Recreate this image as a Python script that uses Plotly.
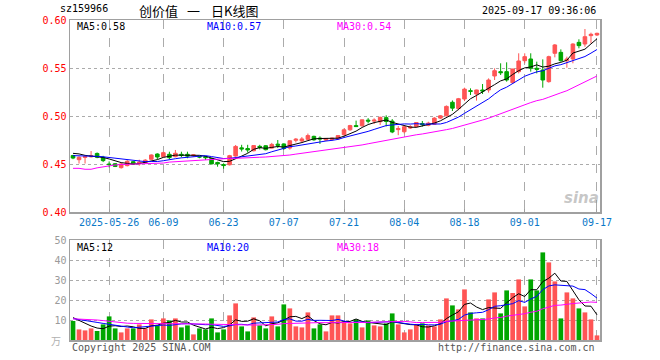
import plotly.graph_objects as go
import pandas as pd

# ---------------- data ----------------
dates = [
    "2025-05-16",
    "2025-05-19", "2025-05-20", "2025-05-21", "2025-05-22", "2025-05-23",
    "2025-05-26", "2025-05-27", "2025-05-28", "2025-05-29", "2025-05-30",
    "2025-06-03", "2025-06-04", "2025-06-05", "2025-06-06",
    "2025-06-09", "2025-06-10", "2025-06-11", "2025-06-12", "2025-06-13",
    "2025-06-16", "2025-06-17", "2025-06-18", "2025-06-19", "2025-06-20",
    "2025-06-23", "2025-06-24", "2025-06-25", "2025-06-26", "2025-06-27",
    "2025-06-30", "2025-07-01", "2025-07-02", "2025-07-03", "2025-07-04",
    "2025-07-07", "2025-07-08", "2025-07-09", "2025-07-10", "2025-07-11",
    "2025-07-14", "2025-07-15", "2025-07-16", "2025-07-17", "2025-07-18",
    "2025-07-21", "2025-07-22", "2025-07-23", "2025-07-24", "2025-07-25",
    "2025-07-28", "2025-07-29", "2025-07-30", "2025-07-31", "2025-08-01",
    "2025-08-04", "2025-08-05", "2025-08-06", "2025-08-07", "2025-08-08",
    "2025-08-11", "2025-08-12", "2025-08-13", "2025-08-14", "2025-08-15",
    "2025-08-18", "2025-08-19", "2025-08-20", "2025-08-21", "2025-08-22",
    "2025-08-25", "2025-08-26", "2025-08-27", "2025-08-28", "2025-08-29",
    "2025-09-01", "2025-09-02", "2025-09-03", "2025-09-04", "2025-09-05",
    "2025-09-08", "2025-09-09", "2025-09-10", "2025-09-11", "2025-09-12",
    "2025-09-15", "2025-09-16", "2025-09-17",
]

open_ = [
    .4588, .4545, .4568, .4575, .4610, .4570, .4500, .4503, .4462, .4483,
    .4524, .4503, .4514, .4549, .4604, .4576, .4601, .4576, .4601, .4601,
    .4585, .4580, .4576, .4558, .4516, .4494, .4492, .4583, .4668, .4661,
    .4638, .4684, .4690, .4666, .4707, .4709, .4666, .4747, .4740, .4757,
    .4788, .4770, .4749, .4755, .4762, .4805, .4856, .4900, .4898, .4957,
    .4947, .4940, .4983, .4947, .4858, .4836, .4875, .4890, .4922, .4903,
    .4914, .4978, .5002, .5143, .5077, .5177, .5264, .5229, .5271, .5271,
    .5417, .5462, .5462, .5347, .5462, .5576, .5594, .5497, .5479, .5358,
    .5653, .5663, .5576, .5594, .5767, .5750, .5837, .5844,
]
high = [
    .4595, .4580, .4585, .4635, .4620, .4585, .4527, .4510, .4514, .4540,
    .4530, .4545, .4550, .4600, .4611, .4628, .4628, .4646, .4628, .4628,
    .4600, .4585, .4583, .4560, .4524, .4507, .4595, .4698, .4700, .4700,
    .4694, .4700, .4696, .4720, .4750, .4715, .4747, .4770, .4780, .4817,
    .4795, .4788, .4770, .4774, .4796, .4870, .4908, .4952, .4962, .4978,
    .4976, .4993, .5007, .4968, .4896, .4895, .4905, .4935, .4948, .4940,
    .4988, .5010, .5110, .5162, .5188, .5295, .5288, .5274, .5333, .5392,
    .5497, .5549, .5559, .5490, .5653, .5653, .5653, .5566, .5590, .5628,
    .5750, .5694, .5618, .5757, .5799, .5906, .5868, .5868,
]
low = [
    .4550, .4505, .4505, .4568, .4560, .4520, .4465, .4468, .4452, .4475,
    .4490, .4483, .4510, .4545, .4549, .4570, .4549, .4570, .4569, .4560,
    .4578, .4560, .4542, .4497, .4472, .4451, .4485, .4576, .4630, .4618,
    .4632, .4652, .4642, .4660, .4666, .4646, .4650, .4725, .4722, .4745,
    .4742, .4709, .4740, .4743, .4752, .4797, .4846, .4885, .4889, .4923,
    .4917, .4906, .4891, .4821, .4800, .4818, .4865, .4880, .4890, .4893,
    .4910, .4968, .4995, .5052, .5060, .5155, .5219, .5160, .5229, .5243,
    .5375, .5427, .5358, .5340, .5444, .5549, .5462, .5444, .5295, .5347,
    .5611, .5566, .5503, .5549, .5705, .5722, .5757, .5833,
]
close = [
    .4562, .4570, .4578, .4585, .4570, .4535, .4494, .4474, .4500, .4528,
    .4500, .4520, .4540, .4594, .4573, .4618, .4566, .4612, .4590, .4582,
    .4595, .4572, .4566, .4501, .4501, .4484, .4587, .4683, .4657, .4646,
    .4692, .4673, .4649, .4704, .4695, .4661, .4742, .4758, .4761, .4796,
    .4752, .4761, .4766, .4770, .4796, .4856, .4900, .4890, .4960, .4947,
    .4957, .4986, .4943, .4834, .4870, .4888, .4886, .4932, .4910, .4926,
    .4978, .5002, .5100, .5082, .5180, .5280, .5257, .5271, .5260, .5375,
    .5472, .5451, .5375, .5490, .5573, .5618, .5497, .5486, .5375, .5618,
    .5740, .5576, .5594, .5750, .5733, .5826, .5851, .5861,
]
volume = [
    9.5, 5.3, 4.8, 5.8, 4.5, 7.8, 11.8, 5.8, 3.8, 5.8,
    5.8, 7.8, 5.8, 10.3, 7.3, 10.8, 9.8, 10.8, 6.3, 7.3,
    2.8, 5.8, 5.3, 10.8, 3.8, 5.3, 12.3, 18.3, 6.8, 4.3,
    11.3, 7.3, 5.8, 11.8, 6.8, 17.8, 15.8, 6.8, 6.3, 13.8,
    5.8, 7.8, 4.3, 12.3, 12.3, 9.3, 8.3, 10.3, 6.3, 9.8,
    7.3, 6.8, 8.3, 13.3, 7.8, 3.8, 5.3, 7.8, 8.3, 7.3,
    6.8, 10.3, 20.8, 17.3, 15.3, 25.3, 13.8, 10.8, 10.8, 20.3,
    23.8, 13.3, 24.8, 23.5, 30.3, 16.8, 30.3, 24.8, 43.8, 38.8,
    29.3, 10.8, 23.8, 20.8, 15.8, 13.8, 10.3, 2.3,
]

# moving-average values at the start of the window (read off the picture,
# their look-back period lies before the first visible day)
ma5_head = [0.4611, 0.4605, 0.4590, 0.4585]
ma10_head = [0.4587, 0.4587, 0.4585, 0.4583, 0.4580, 0.4575, 0.4568, 0.4558, 0.4550]
ma30_head = [0.4455, 0.4455, 0.4445, 0.4445, 0.4460, 0.4472, 0.4483, 0.4490, 0.4495, 0.4497,
             0.4497, 0.4500, 0.4505, 0.4507, 0.4508, 0.4510, 0.4520, 0.4524, 0.4526, 0.4535,
             0.4540, 0.4542, 0.4545, 0.4550, 0.4555, 0.4557, 0.4558, 0.4559, 0.4560]
vma5_head = [11.2, 9.8, 8.3, 7.0]
vma10_head = [10.7, 10.3, 9.8, 9.3, 8.8, 8.3, 7.8, 7.2, 6.8]
vma30_head = [10.6, 10.5, 10.4, 10.2, 10.0, 9.7, 9.3, 8.9, 8.6, 8.4,
              8.3, 8.3, 8.3, 8.3, 8.3, 8.3, 8.3, 8.2, 8.2, 8.2,
              8.1, 8.0, 8.0, 7.9, 7.8, 7.7, 7.6, 7.5, 7.5]

tick_dates = ["2025-05-26", "2025-06-09", "2025-06-23", "2025-07-07", "2025-07-21",
              "2025-08-04", "2025-08-18", "2025-09-01", "2025-09-17"]
tick_labels = ["2025-05-26", "06-09", "06-23", "07-07", "07-21",
               "08-04", "08-18", "09-01", "09-17"]
price_ticks = [0.40, 0.45, 0.50, 0.55, 0.60]
price_tick_labels = ["0.40", "0.45", "0.50", "0.55", "0.60"]
vol_ticks = [10, 20, 30, 40, 50]

code = "sz159966"
title = ["创价值", "一", "日K线图"]
timestamp = "2025-09-17 09:36:06"


# ---------------- helpers ----------------
def moving_average(values, n, head):
    s = pd.Series(values, dtype=float).rolling(n).mean().tolist()
    return list(head) + s[len(head):]


ma5 = moving_average(close, 5, ma5_head)
ma10 = moving_average(close, 10, ma10_head)
ma30 = moving_average(close, 30, ma30_head)
vma5 = moving_average(volume, 5, vma5_head)
vma10 = moving_average(volume, 10, vma10_head)
vma30 = moving_average(volume, 30, vma30_head)

RED = "#FF5555"
GREEN = "#00A600"
MONO = "DejaVu Sans Mono"
GRID = "#ABABAB"
BORDER = "#A0A0A0"
vol_colors = [RED if c >= o else GREEN for o, c in zip(open_, close)]

fig = go.Figure()
fig.add_trace(go.Candlestick(
    x=dates, open=open_, high=high, low=low, close=close,
    increasing=dict(line=dict(color=RED, width=1), fillcolor=RED),
    decreasing=dict(line=dict(color=GREEN, width=1), fillcolor=GREEN),
    whiskerwidth=0, xaxis="x", yaxis="y", hoverinfo="skip", showlegend=False))
for vals, col in [(ma5, "#000000"), (ma10, "#0000FF"), (ma30, "#FF00FF")]:
    fig.add_trace(go.Scatter(x=dates, y=vals, mode="lines", line=dict(color=col, width=1),
                             xaxis="x", yaxis="y", hoverinfo="skip", showlegend=False))
fig.add_trace(go.Bar(x=dates, y=volume, marker=dict(color=vol_colors, line=dict(width=0)),
                     xaxis="x2", yaxis="y2", hoverinfo="skip", showlegend=False))
for vals, col in [(vma5, "#000000"), (vma10, "#0000FF"), (vma30, "#FF00FF")]:
    fig.add_trace(go.Scatter(x=dates, y=vals, mode="lines", line=dict(color=col, width=1),
                             xaxis="x2", yaxis="y2", hoverinfo="skip", showlegend=False))

xcommon = dict(type="category", range=[-0.5, len(dates) - 0.5], tickvals=tick_dates,
               showgrid=True, gridcolor=GRID, griddash="dash", gridwidth=1,
               showline=True, mirror=True, linecolor=BORDER, linewidth=1.5,
               zeroline=False, fixedrange=True)

fig.update_layout(
    width=660, height=360,
    margin=dict(l=70, r=60, t=20, b=20),
    paper_bgcolor="white", plot_bgcolor="white",
    bargap=0.22, boxgap=0.15, showlegend=False,
    xaxis=dict(**xcommon, domain=[0, 1], anchor="y", ticktext=tick_labels,
               tickfont=dict(family=MONO, size=10, color="#0A78C8"),
               ticks="inside", ticklen=3, tickcolor=BORDER,
               rangeslider=dict(visible=False)),
    yaxis=dict(domain=[0.4, 1.0], anchor="x", range=[0.40, 0.60],
               tickvals=price_ticks, ticktext=price_tick_labels,
               tickfont=dict(family=MONO, size=10, color="#FF0000"),
               showgrid=True, gridcolor=GRID, griddash="dot", gridwidth=1,
               showline=True, mirror=True, linecolor=BORDER, linewidth=1.5,
               zeroline=False, ticks="", fixedrange=True),
    xaxis2=dict(**xcommon, domain=[0, 1], anchor="y2", showticklabels=False, ticks=""),
    yaxis2=dict(domain=[0.0, 0.3125], anchor="x2", range=[0, 50],
                tickvals=vol_ticks, ticktext=[str(v) for v in vol_ticks],
                tickfont=dict(family=MONO, size=10, color="#9A9A9A"),
                showgrid=True, gridcolor=GRID, griddash="dot", gridwidth=1,
                showline=True, mirror=True, linecolor=BORDER, linewidth=1.5,
                zeroline=False, ticks="", fixedrange=True),
)


def px_x(px):
    return (px - 70) / 530.0


def px_y(py):
    return (340 - py) / 320.0


def note(text, x, y, color="#000000", size=10, family=MONO, xanchor="left", **kw):
    fig.add_annotation(text=text, xref="paper", yref="paper", x=px_x(x), y=px_y(y),
                       xanchor=xanchor, yanchor="middle", showarrow=False,
                       font=dict(family=family, size=size, color=color), **kw)


# header
note(code, 58, 9, size=10)
note(title[0], 158, 10, size=13, family="Noto Sans CJK SC", xanchor="center")
note(title[1], 193, 10, size=13, family="Noto Sans CJK SC", xanchor="center")
note(title[2], 234, 10, size=13, family="Noto Sans CJK SC", xanchor="center")
note(timestamp, 598, 10, size=10, xanchor="right")

# MA legends
note(f"MA5:{ma5[-1]:.2f}", 75, 27, "#000000")
note(f"MA10:{ma10[-1]:.2f}", 205, 27, "#0000FF")
note(f"MA30:{ma30[-1]:.2f}", 335, 27, "#FF00FF")
note(f"MA5:{int(vma5[-1])}", 75, 247, "#000000")
note(f"MA10:{int(vma10[-1])}", 205, 247, "#0000FF")
note(f"MA30:{int(vma30[-1])}", 335, 247, "#FF00FF")

# footers and unit
note("Copyright 2025 SINA.COM", 70, 347, "#555555")
note("http://finance.sina.com.cn", 597, 347, "#555555", xanchor="right")
note("万", 63, 340, "#B0B0B0", size=10, family="Noto Sans CJK SC", xanchor="right")

# watermark
note("<b><i>sina</i></b>", 581, 198, "rgba(150,150,150,0.55)", size=15,
     family="DejaVu Sans", xanchor="center")

fig.write_html("out.html", post_script="document.body.style.margin='0';",
               config={"displayModeBar": False, "staticPlot": True})
